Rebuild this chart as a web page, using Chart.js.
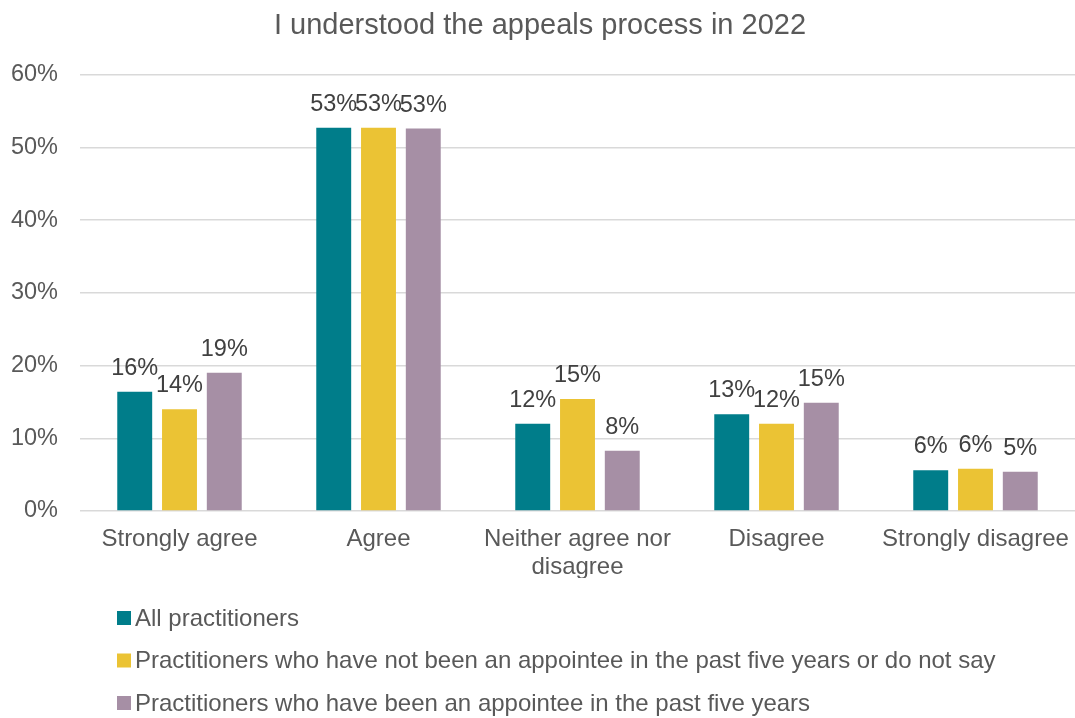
<!DOCTYPE html>
<html>
<head>
<meta charset="utf-8">
<title>I understood the appeals process in 2022</title>
<script src="https://cdn.jsdelivr.net/npm/chart.js"></script>
<style>
  html, body { margin: 0; padding: 0; background: #ffffff; }
  #wrap { width: 1075px; height: 718px; position: relative; }
</style>
</head>
<body>
<div id="wrap"><canvas id="chart"></canvas></div>
<script>
const categories = [
    'Strongly agree',
    'Agree',
    ['Neither agree nor', 'disagree'],
    'Disagree',
    'Strongly disagree'
];
const seriesNames = [
    'All practitioners',
    'Practitioners who have not been an appointee in the past five years or do not say',
    'Practitioners who have been an appointee in the past five years'
];
const allPractitioners = [16.4, 52.7, 12.0, 13.3, 5.6];
const notAppointee = [14.0, 52.7, 15.4, 12.0, 5.8];
const appointee = [19.0, 52.6, 8.3, 14.9, 5.4];
const yTicks = [0, 10, 20, 30, 40, 50, 60];

const colors = ['#007d8a', '#ebc334', '#a68fa5'];
const textColor = '#595959';
const fontFamily = '"Liberation Sans", Arial, sans-serif';

// value labels above each bar
const barLabels = {
    id: 'barLabels',
    afterDatasetsDraw(chart) {
        const ctx = chart.ctx;
        ctx.save();
        ctx.font = '23.5px ' + fontFamily;
        ctx.fillStyle = '#404040';
        ctx.textAlign = 'center';
        ctx.textBaseline = 'alphabetic';
        chart.data.datasets.forEach((ds, i) => {
            chart.getDatasetMeta(i).data.forEach((bar, j) => {
                ctx.fillText(Math.round(ds.data[j]) + '%', bar.x, bar.y - 17);
            });
        });
        ctx.restore();
    }
};

// stacked legend under the plot
const stackedLegend = {
    id: 'stackedLegend',
    afterDraw(chart) {
        const ctx = chart.ctx;
        ctx.save();
        ctx.font = '24px ' + fontFamily;
        ctx.textBaseline = 'middle';
        chart.data.datasets.forEach((ds, i) => {
            const y = 618 + i * 42.5;
            ctx.fillStyle = ds.backgroundColor;
            ctx.fillRect(117, y - 7, 14, 14);
            ctx.fillStyle = textColor;
            ctx.fillText(ds.label, 135, y + 1);
        });
        ctx.restore();
    }
};

const seriesData = [allPractitioners, notAppointee, appointee];

new Chart(document.getElementById('chart'), {
    type: 'bar',
    data: {
        labels: categories,
        datasets: seriesNames.map((name, i) => ({
            label: name,
            data: seriesData[i],
            backgroundColor: colors[i],
            categoryPercentage: 0.675,
            barPercentage: 0.78
        }))
    },
    options: {
        responsive: true,
        maintainAspectRatio: false,
        animation: false,
        layout: { padding: { left: 0, right: -5, top: 0, bottom: 140 } },
        plugins: {
            legend: { display: false },
            tooltip: { enabled: false },
            title: {
                display: true,
                text: 'I understood the appeals process in 2022',
                color: textColor,
                font: { family: fontFamily, size: 29, weight: 'normal' },
                padding: { top: 9, bottom: 31 }
            }
        },
        scales: {
            x: {
                grid: { display: false, drawTicks: false },
                border: { display: false },
                ticks: {
                    color: textColor,
                    font: { family: fontFamily, size: 24, lineHeight: 1.17 },
                    padding: 14,
                    maxRotation: 0,
                    autoSkip: false
                },
                afterFit(scale) {
                    scale.height = 67;
                    scale.paddingLeft = 0;
                    scale.paddingRight = 0;
                }
            },
            y: {
                min: 0,
                max: 60,
                afterBuildTicks(scale) { scale.ticks = yTicks.map(v => ({ value: v })); },
                grid: { color: '#d9d9d9', lineWidth: 1.5, drawTicks: false },
                border: { display: false },
                ticks: {
                    color: textColor,
                    font: { family: fontFamily, size: 23.5 },
                    padding: 22,
                    callback: v => v + '%'
                },
                afterFit(scale) { scale.width = 80; }
            }
        }
    },
    plugins: [barLabels, stackedLegend]
});
</script>
</body>
</html>
